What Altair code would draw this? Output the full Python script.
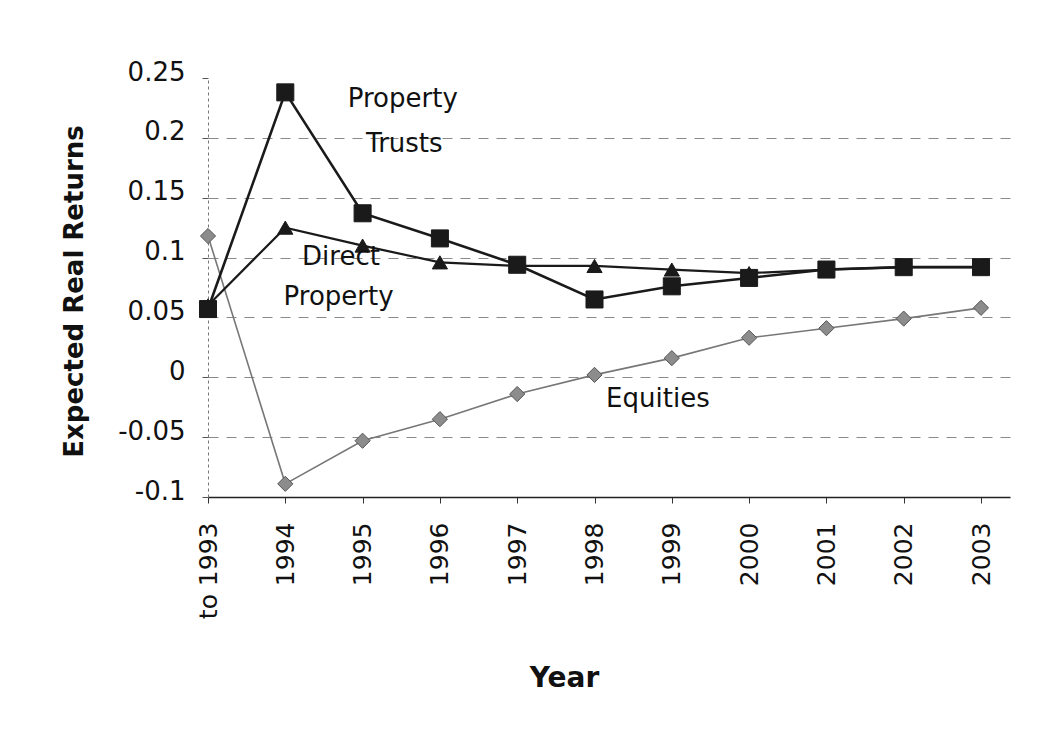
import altair as alt
import pandas as pd

# ---- data ----
years = ["to 1993", "1994", "1995", "1996", "1997", "1998", "1999", "2000", "2001", "2002", "2003"]
property_trusts = [0.057, 0.238, 0.137, 0.116, 0.094, 0.065, 0.076, 0.083, 0.090, 0.092, 0.092]
direct_property = [0.060, 0.125, 0.110, 0.096, 0.093, 0.093, 0.090, 0.087, 0.090, 0.092, 0.092]
equities = [0.118, -0.089, -0.053, -0.035, -0.014, 0.002, 0.016, 0.033, 0.041, 0.049, 0.058]

series_names = ["Equities", "Direct Property", "Property Trusts"]
series_values = [equities, direct_property, property_trusts]

y_ticks = [-0.1, -0.05, 0, 0.05, 0.1, 0.15, 0.2, 0.25]

ann_text = ["Property", "Trusts", "Direct", "Property", "Equities"]
ann_x = [2.52, 2.54, 1.72, 1.69, 5.82]
ann_y = [0.226, 0.188, 0.094, 0.060, -0.025]

# ---- tables ----
rows = []
for name, vals in zip(series_names, series_values):
    for i, v in enumerate(vals):
        rows.append({"idx": i, "label": years[i], "value": v, "series": name})
df = pd.DataFrame(rows)
ann_df = pd.DataFrame({"x": ann_x, "y": ann_y, "text": ann_text})

FONT = "DejaVu Sans"
label_array = "[" + ",".join("'" + y + "'" for y in years) + "]"

x_enc = alt.X(
    "idx:Q",
    scale=alt.Scale(domain=[0, 10.375], nice=False, zero=False),
    axis=alt.Axis(
        values=list(range(len(years))),
        labelExpr=label_array + "[round(datum.value)]",
        labelAngle=270,
        labelAlign="right",
        labelBaseline="middle",
        labelFontSize=25,
        labelColor="#111",
        labelPadding=19,
        tickSize=6,
        tickColor="#333",
        grid=False,
        domainColor="#222",
        domainWidth=1.5,
        title="Year",
        titleFontSize=28,
        titleFontWeight="bold",
        titleColor="#111",
        titleX=356,
        titleY=189,
        titleBaseline="alphabetic",
        titleAlign="center",
    ),
)

y_enc = alt.Y(
    "value:Q",
    scale=alt.Scale(domain=[-0.1, 0.25], nice=False, zero=False),
    axis=alt.Axis(
        values=y_ticks,
        labelExpr="toString(round(datum.value*100)/100)",
        labelFontSize=26,
        labelColor="#111",
        labelPadding=17,
        labelOffset=-6,
        tickSize=6,
        tickColor="#555",
        grid=True,
        gridDash=[10, 8],
        gridColor="#8a8a8a",
        gridWidth=1,
        gridOpacity={"condition": {"test": "datum.value > 0.24 || datum.value < -0.09", "value": 0}, "value": 1},
        domainDash=[3, 3],
        domainColor="#777",
        title="Expected Real Returns",
        titleFontSize=26,
        titleFontWeight="bold",
        titleColor="#111",
        titleAngle=270,
        titleX=-126,
        titleY=213,
        titleBaseline="alphabetic",
        titleAlign="center",
    ),
)

base = alt.Chart(df)

def series_layer(name, line_color, line_width, shape, size, fill, stroke):
    d = base.transform_filter(alt.datum.series == name)
    line = d.mark_line(color=line_color, strokeWidth=line_width).encode(x=x_enc, y=y_enc)
    pts = d.mark_point(shape=shape, size=size, filled=True, fill=fill, stroke=stroke,
                       strokeWidth=1, opacity=1).encode(x=x_enc, y=y_enc)
    return line + pts

eq = series_layer("Equities", "#777777", 1.6, "diamond", 230, "#8c8c8c", "#555555")
dp = series_layer("Direct Property", "#1a1a1a", 2.2, "triangle-up", 230, "#1a1a1a", "#1a1a1a")
pt = series_layer("Property Trusts", "#1a1a1a", 2.6, "square", 290, "#1a1a1a", "#1a1a1a")

ann = alt.Chart(ann_df).mark_text(
    font=FONT, fontSize=26, color="#111", align="center", baseline="alphabetic"
).encode(x=alt.X("x:Q", scale=alt.Scale(domain=[0, 10.375], nice=False, zero=False)),
         y=alt.Y("y:Q", scale=alt.Scale(domain=[-0.1, 0.25], nice=False, zero=False)),
         text="text:N")

chart = alt.layer(eq, dp, pt, ann).properties(
    width=802,
    height=419,
    autosize=alt.AutoSizeParams(type="none"),
    padding={"left": 200, "top": 70, "right": 38, "bottom": 226},
    background="white",
).configure(font=FONT).configure_view(stroke=None, strokeWidth=0)

chart.save("out.html", embed_options={"renderer": "svg", "actions": False})
